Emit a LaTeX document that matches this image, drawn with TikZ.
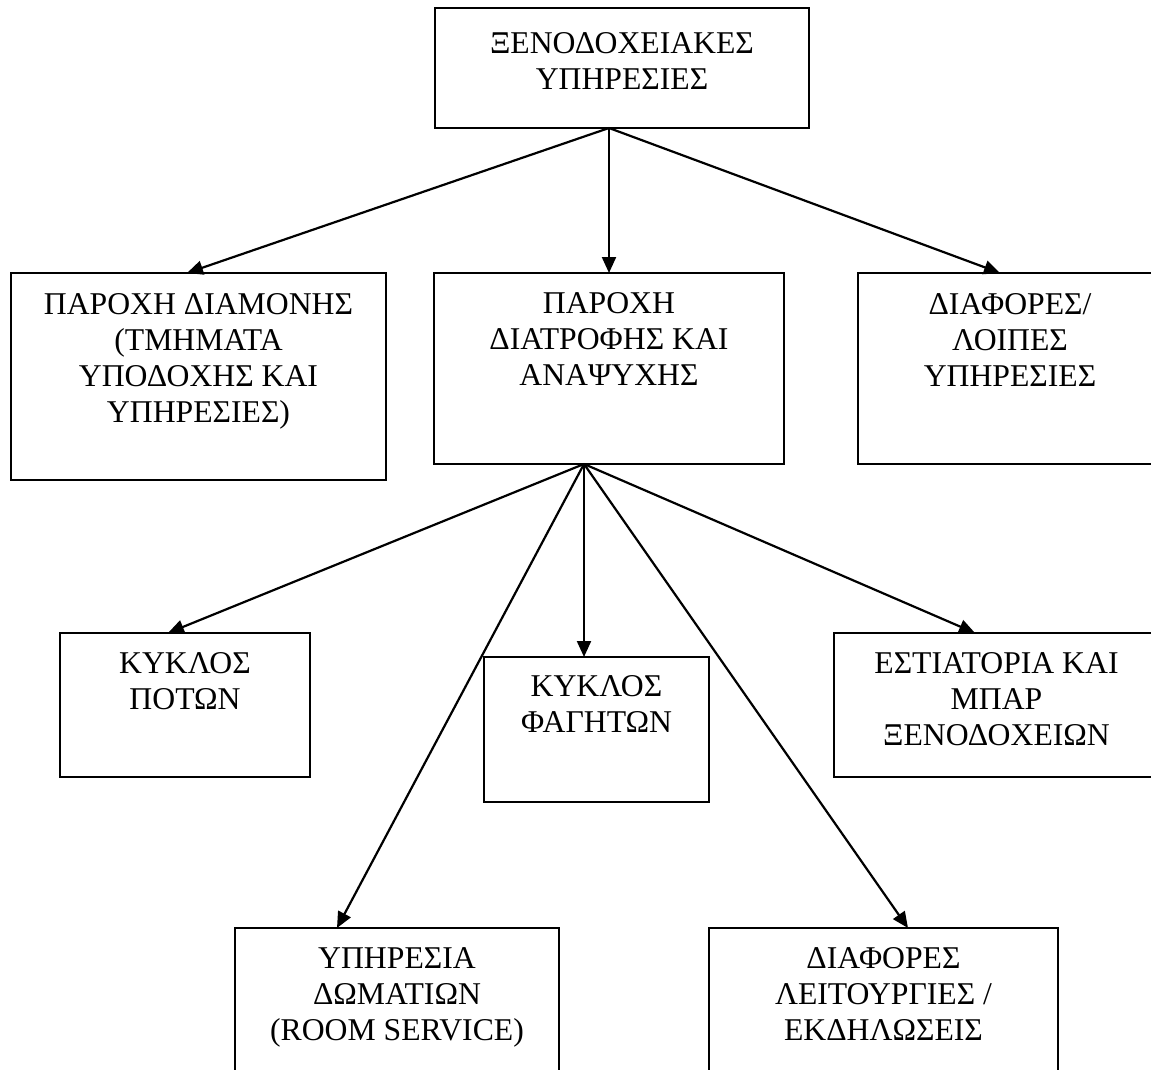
\documentclass[tikz,border=0pt]{standalone}
\usepackage{fontspec}
\setmainfont{Liberation Serif}
\usetikzlibrary{calc,arrows.meta}

\tikzset{
  box/.style={draw=black, line width=2.2pt, anchor=north west, inner sep=0pt,
              outer sep=0pt, fill=white},
  lbl/.style={anchor=north, inner sep=0pt, align=center,
              font=\fontsize{31.7}{36}\selectfont},
  link/.style={line width=2.2pt, -{Triangle[length=16pt,width=14pt]}}
}

\begin{document}
\begin{tikzpicture}[x=1pt, y=-1pt]
  \useasboundingbox (0,0) rectangle (1151,1070);
  \clip (0,0) rectangle (1151,1070);

  % boxes
  \node[box, minimum width=374pt, minimum height=120pt] (b1) at (435,8) {};
  \node[box, minimum width=375pt, minimum height=207pt] (b2) at (11,273) {};
  \node[box, minimum width=350pt, minimum height=191pt] (b3) at (434,273) {};
  \node[box, minimum width=304pt, minimum height=191pt] (b4) at (858,273) {};
  \node[box, minimum width=250pt, minimum height=144pt] (b5) at (60,633) {};
  \node[box, minimum width=225pt, minimum height=145pt] (b6) at (484,657) {};
  \node[box, minimum width=325pt, minimum height=144pt] (b7) at (834,633) {};
  \node[box, minimum width=324pt, minimum height=160pt] (b8) at (235,928) {};
  \node[box, minimum width=349pt, minimum height=160pt] (b9) at (709,928) {};

  % labels
  \node[lbl] (t1) at ($(b1.north)+(0,24)$) {ΞΕΝΟΔΟΧΕΙΑΚΕΣ\\ΥΠΗΡΕΣΙΕΣ};
  \node[lbl] (t2) at ($(b2.north)+(0,20)$) {ΠΑΡΟΧΗ ΔΙΑΜΟΝΗΣ\\(ΤΜΗΜΑΤΑ\\ΥΠΟΔΟΧΗΣ ΚΑΙ\\ΥΠΗΡΕΣΙΕΣ)};
  \node[lbl] (t3) at ($(b3.north)+(0,19)$) {ΠΑΡΟΧΗ\\ΔΙΑΤΡΟΦΗΣ ΚΑΙ\\ΑΝΑΨΥΧΗΣ};
  \node[lbl] (t4) at ($(b4.north)+(0,20)$) {ΔΙΑΦΟΡΕΣ/\\ΛΟΙΠΕΣ\\ΥΠΗΡΕΣΙΕΣ};
  \node[lbl] (t5) at ($(b5.north)+(0,19)$) {ΚΥΚΛΟΣ\\ΠΟΤΩΝ};
  \node[lbl] (t6) at ($(b6.north)+(0,18)$) {ΚΥΚΛΟΣ\\ΦΑΓΗΤΩΝ};
  \node[lbl] (t7) at ($(b7.north)+(0,19)$) {ΕΣΤΙΑΤΟΡΙΑ ΚΑΙ\\ΜΠΑΡ\\ΞΕΝΟΔΟΧΕΙΩΝ};
  \node[lbl] (t8) at ($(b8.north)+(0,19)$) {ΥΠΗΡΕΣΙΑ\\ΔΩΜΑΤΙΩΝ\\(ROOM SERVICE)};
  \node[lbl] (t9) at ($(b9.north)+(0,19)$) {ΔΙΑΦΟΡΕΣ\\ΛΕΙΤΟΥΡΓΙΕΣ /\\ΕΚΔΗΛΩΣΕΙΣ};

  % connectors from the top box
  \coordinate (o1) at ($(b1.south)+(-13,0)$);
  \draw[link] (o1) -- ($(b2.north west)+(176,0)$);
  \draw[link] (o1) -- (b3.north);
  \draw[link] (o1) -- ($(b4.north west)+(142,0)$);

  % connectors from the catering box
  \coordinate (o3) at ($(b3.south)+(-25,0)$);
  \draw[link] (o3) -- ($(b5.north west)+(108,0)$);
  \draw[link] (o3) -- ($(b6.north west)+(100,0)$);
  \draw[link] (o3) -- ($(b7.north west)+(141,0)$);
  \draw[link] (o3) -- ($(b8.north west)+(102,0)$);
  \draw[link] (o3) -- ($(b9.north west)+(199,0)$);
\end{tikzpicture}
\end{document}
